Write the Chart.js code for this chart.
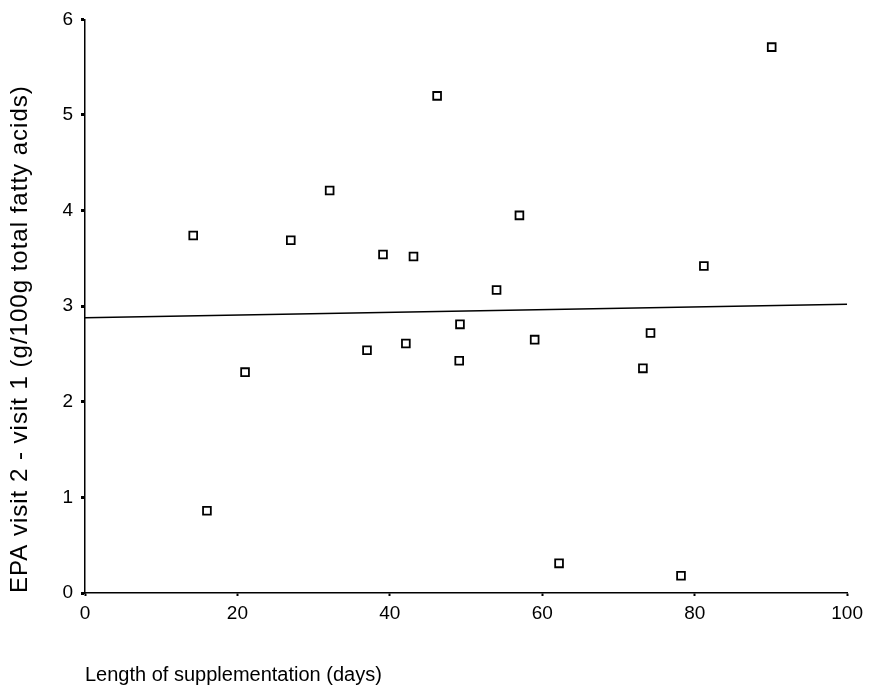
<!DOCTYPE html>
<html>
<head>
<meta charset="utf-8">
<script src="https://cdn.jsdelivr.net/npm/chart.js@4.4.1/dist/chart.umd.min.js"></script>
<style>
  html, body { margin: 0; padding: 0; background: #fff; }
  #wrap { width: 869px; height: 692px; }
</style>
</head>
<body>
<div id="wrap"><canvas id="myChart"></canvas></div>
<script>
// Length of supplementation (days)
const days = [14.2, 16.0, 21.0, 27.0, 32.1, 37.0, 39.1, 42.1, 43.1, 46.2, 49.2, 49.1, 54.0, 57.0, 59.0, 62.2, 73.2, 74.2, 78.2, 81.2, 90.1];
// EPA visit 2 - visit 1
const epaDiff = [3.74, 0.86, 2.31, 3.69, 4.21, 2.54, 3.54, 2.61, 3.52, 5.20, 2.81, 2.43, 3.17, 3.95, 2.65, 0.31, 2.35, 2.72, 0.18, 3.42, 5.71];
// fitted line end points
const fitX = [0, 100];
const fitY = [2.88, 3.02];

const xTicks = [0, 20, 40, 60, 80, 100];
const yTicks = [0, 1, 2, 3, 4, 5, 6];

document.addEventListener("DOMContentLoaded", () => {
  const ctx = document.getElementById("myChart").getContext("2d");
  Chart.defaults.font.family = "'Liberation Sans', Arial, sans-serif";
  Chart.defaults.color = "#000";

  const points = days.map((d, i) => ({ x: d, y: epaDiff[i] }));
  const fit = fitX.map((d, i) => ({ x: d, y: fitY[i] }));

  new Chart(ctx, {
    type: "scatter",
    data: {
      datasets: [
        {
          label: "EPA",
          data: points,
          pointStyle: "rect",
          radius: 5.5,
          borderColor: "#000",
          backgroundColor: "#fff",
          borderWidth: 1.8,
        },
        {
          type: "line",
          label: "fit",
          data: fit,
          borderColor: "#000",
          borderWidth: 1.5,
          pointRadius: 0,
          fill: false,
        },
      ],
    },
    options: {
      responsive: true,
      maintainAspectRatio: false,
      animation: false,
      layout: { padding: { top: 18, right: 21, bottom: 0, left: 0 } },
      plugins: {
        legend: { display: false },
        tooltip: { enabled: false },
      },
      scales: {
        x: {
          type: "linear",
          min: 0,
          max: 100,
          afterBuildTicks: (scale) => {
            scale.ticks = xTicks.map((v) => ({ value: v }));
          },
          afterFit: (scale) => {
            scale.height = 99;
          },
          border: { color: "#000", width: 1.5 },
          grid: { drawOnChartArea: false, drawTicks: true, tickLength: 3, tickWidth: 2, color: "#000" },
          ticks: { font: { size: 19 }, padding: 6, maxRotation: 0 },
          title: {
            display: true,
            text: "Length of supplementation (days)",
            align: "start",
            font: { size: 20 },
            padding: { top: 0, bottom: 5 },
          },
        },
        y: {
          type: "linear",
          min: 0,
          max: 6,
          afterBuildTicks: (scale) => {
            scale.ticks = yTicks.map((v) => ({ value: v }));
          },
          afterFit: (scale) => {
            scale.width = 85;
            // the scanned y title is a bit spread out, widen its letter spacing
            if (!scale._spaced) {
              const orig = scale.drawTitle.bind(scale);
              scale.drawTitle = (area) => {
                scale.ctx.save();
                scale.ctx.letterSpacing = "1px";
                orig(area);
                scale.ctx.restore();
              };
              scale._spaced = true;
            }
          },
          border: { color: "#000", width: 1.5 },
          grid: { drawOnChartArea: false, drawTicks: true, tickLength: 4, tickWidth: 3, color: "#000" },
          ticks: { font: { size: 19 }, padding: 8 },
          title: {
            display: true,
            text: "EPA visit 2 - visit 1 (g/100g total fatty acids)",
            align: "start",
            font: { size: 24 },
            padding: { top: 6, bottom: 0 },
          },
        },
      },
    },
  });
});
</script>
</body>
</html>
